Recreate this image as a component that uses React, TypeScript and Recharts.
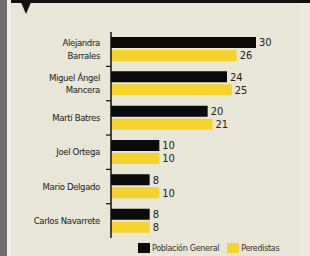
import React from "react";
import { BarChart, Bar, XAxis, YAxis, LabelList, Legend } from "recharts";

const candidates = [
  "Alejandra Barrales",
  "Miguel Ángel Mancera",
  "Martí Batres",
  "Joel Ortega",
  "Mario Delgado",
  "Carlos Navarrete",
];
const tickLines: string[][] = [
  ["Alejandra", "Barrales"],
  ["Miguel Ángel", "Mancera"],
  ["Martí Batres"],
  ["Joel Ortega"],
  ["Mario Delgado"],
  ["Carlos Navarrete"],
];
const poblacionGeneral = [30, 24, 20, 10, 8, 8];
const perredistas = [26, 25, 21, 10, 10, 8];
const seriesNames = ["Población General", "Peredistas"];

const data = candidates.map((c, i) => ({
  name: c,
  general: poblacionGeneral[i],
  perredistas: perredistas[i],
}));

const FONT = "'Liberation Sans Narrow', 'DejaVu Sans Condensed', sans-serif";
const BLACK = "#0b0b0b";
const YELLOW = "#f6d32a";
const BG = "#e7e6d7";

const CategoryTick = (props: any) => {
  const { x, y, payload } = props;
  const idx = candidates.indexOf(payload.value);
  const lines = tickLines[idx] || [payload.value];
  const lh = 12.5;
  const start = -((lines.length - 1) * lh) / 2;
  return (
    <g>
      <text
        x={x - 11}
        y={y}
        textAnchor="end"
        fontFamily={FONT}
        fontSize={9.5}
        letterSpacing={-0.35}
        fill="#1a1a1a"
      >
        {lines.map((l, i) => (
          <tspan key={i} x={x - 11} y={y + start + i * lh} dy="0.35em">
            {l}
          </tspan>
        ))}
      </text>
      {idx < candidates.length - 1 ? (
        <line x1={x - 5} x2={x} y1={y + 17.2} y2={y + 17.2} stroke="#111" strokeWidth={1.2} />
      ) : null}
    </g>
  );
};

const LegendContent = () => (
  <div style={{ display: "flex", alignItems: "center", fontFamily: FONT, fontSize: 9, letterSpacing: -0.35, color: "#333" }}>
    <span style={{ width: 12, height: 10, background: BLACK, display: "inline-block", marginRight: 2 }} />
    <span style={{ marginRight: 8 }}>{seriesNames[0]}</span>
    <span style={{ width: 12, height: 10, background: YELLOW, display: "inline-block", marginRight: 2 }} />
    <span>{seriesNames[1]}</span>
  </div>
);

export default function App() {
  return (
    <div
      style={{
        position: "fixed",
        left: 0,
        top: 0,
        width: 310,
        height: 256,
        background: BG,
        overflow: "hidden",
      }}
    >
      <div style={{ position: "absolute", left: 0, top: 0, width: 7, height: 256, background: "#6d6d6d" }} />
      <div style={{ position: "absolute", left: 7, top: 0, width: 4, height: 256, background: "#f1f0e8" }} />
      <div style={{ position: "absolute", left: 300, top: 0, width: 10, height: 256, background: "#ebeadd" }} />
      <div style={{ position: "absolute", left: 11, top: 0, width: 299, height: 3, background: "#111" }} />
      <svg style={{ position: "absolute", left: 0, top: 0 }} width={40} height={20}>
        <polygon points="20,0 32,0 26,14" fill="#111" />
      </svg>
      <div style={{ position: "absolute", left: 0, top: 0 }}>
        <BarChart
          width={310}
          height={256}
          data={data}
          layout="vertical"
          margin={{ top: 32, right: 54, bottom: 18, left: 0 }}
          barCategoryGap={5}
          barGap={2}
        >
          <XAxis type="number" domain={[0, 30]} hide />
          <YAxis
            type="category"
            dataKey="name"
            width={111}
            axisLine={{ stroke: "#111", strokeWidth: 1.5 }}
            tickLine={false}
            tickSize={0}
            tickMargin={0}
            tick={<CategoryTick />}
            interval={0}
          />
          <Legend
            verticalAlign="middle"
            layout="horizontal"
            content={<LegendContent />}
            wrapperStyle={{ position: "absolute", top: 243, left: 138, width: 170, height: 12 }}
          />
          <Bar dataKey="general" name={seriesNames[0]} fill={BLACK} barSize={11} isAnimationActive={false}>
            <LabelList dataKey="general" position="right" offset={3} fill="#222" fontSize={11} fontFamily={FONT} />
          </Bar>
          <Bar dataKey="perredistas" name={seriesNames[1]} fill={YELLOW} barSize={11} isAnimationActive={false}>
            <LabelList dataKey="perredistas" position="right" offset={3} fill="#222" fontSize={11} fontFamily={FONT} />
          </Bar>
        </BarChart>
      </div>
    </div>
  );
}
